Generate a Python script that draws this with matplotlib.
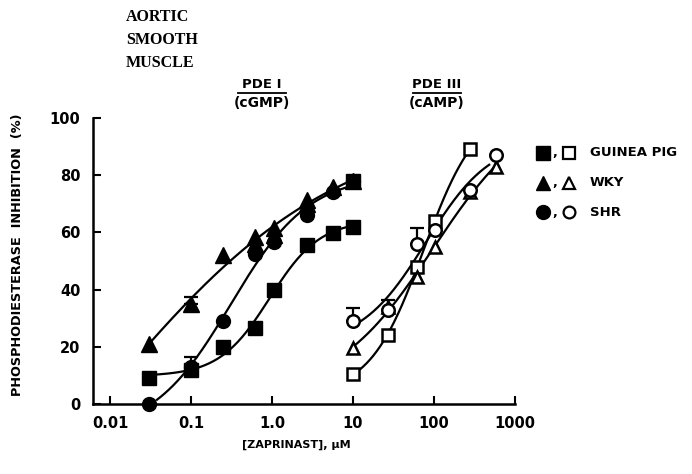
import numpy as np
import matplotlib.pyplot as plt
from matplotlib.lines import Line2D

# PDE I (cGMP) - filled symbols
x1 = [0.03, 0.1, 0.25, 0.62, 1.05, 2.7, 5.7, 10]
gp1 = [9, 12, 20, 26.5, 40, 55.5, 59.8, 62]
wky1 = [21, 35, 52, 56, 59, 70, 76, 78]
shr1 = [0, 13, 29, 52.5, 56.5, 66, 74, 78]
# repeated WKY determinations stacked at the same concentration
wky1_x_extra = [0.62, 1.05, 2.7]
wky1_extra = [58.5, 61.5, 71.5]

# PDE III (cAMP) - open symbols
x3 = [10, 27, 61, 103, 277]
gp3 = [10.5, 24, 48, 64, 89]
x3b = [10, 27, 61, 103, 277, 590]
wky3 = [19.5, 34, 44.5, 55, 74, 83]
shr3 = [29, 33, 56, 61, 75, 87]

# upper error bars
err_x = [0.1, 0.1, 10, 27, 61]
err_y = [35, 13, 29, 33, 56]
err_up = [2.5, 3.5, 4.5, 3.5, 5.5]

fig = plt.figure(figsize=(6.92, 4.74), dpi=100)
ax = fig.add_axes([93/692, 1-404/474, (515-93)/692, (404-118)/474])
ax.set_xscale('log')
ax.set_xlim(10**-2.21, 1000)
ax.set_ylim(0, 100)

# sigmoid (Hill) fit in log x: grid over midpoint/slope, least squares for bottom/top
def curve(x, y, x0=None, x1_=None):
    lx = np.log10(x)
    y = np.asarray(y, float)
    best = None
    for mid in np.linspace(lx[0] - 1, lx[-1] + 2, 300):
        for h in np.linspace(0.3, 3, 60):
            s = 1 / (1 + 10**((mid - lx) * h))
            A = np.column_stack([1 - s, s])
            coef = np.linalg.lstsq(A, y, rcond=None)[0]
            r = np.sum((A @ coef - y)**2)
            if best is None or r < best[0]:
                best = (r, mid, h, coef)
    _, mid, h, (b, t) = best
    lo = lx[0] if x0 is None else np.log10(x0)
    hi = lx[-1] if x1_ is None else np.log10(x1_)
    xs = np.linspace(lo, hi, 200)
    s = 1 / (1 + 10**((mid - xs) * h))
    ax.plot(10**xs, b + (t - b) * s, color='black', lw=1.6, zorder=2)

curve(x1, gp1)
curve(x1 + wky1_x_extra, wky1 + wky1_extra, x0=0.03, x1_=10)
curve(x1, shr1, x0=0.038)
curve(x3, gp3, x1_=250)
curve(x3b, wky3)
curve(x3b, shr3, x1_=480)

ax.errorbar(err_x, err_y, yerr=[np.zeros(5), err_up], fmt='none', ecolor='black',
            elinewidth=1.6, capsize=5, capthick=1.6, zorder=3)

ms = 10
ax.plot(x1, wky1, '^', color='black', ms=ms+1, ls='none', zorder=4, clip_on=False)
ax.plot(wky1_x_extra, wky1_extra, '^', color='black', ms=ms+1, ls='none', zorder=4)
ax.plot(x1, shr1, 'o', color='black', ms=ms, ls='none', zorder=4, clip_on=False)
ax.plot(x1, gp1, 's', color='black', ms=ms, ls='none', zorder=5)
ax.plot(x1[-1:], wky1[-1:], 's', color='black', ms=ms, ls='none', zorder=5)

ax.plot(x3, gp3, 's', mfc='white', mec='black', mew=1.8, ms=ms-1, ls='none', zorder=4)
ax.plot(x3b, wky3, '^', mfc='white', mec='black', mew=1.8, ms=ms-1, ls='none', zorder=4)
ax.plot(x3b, shr3, 'o', mfc='white', mec='black', mew=1.8, ms=ms-1, ls='none', zorder=4)

for s in ['top', 'right']:
    ax.spines[s].set_visible(False)
for s in ['left', 'bottom']:
    ax.spines[s].set_linewidth(1.8)
ax.tick_params(direction='in', length=6, width=1.5, pad=9, labelsize=10.5)
ax.minorticks_off()
ax.set_xticks([0.01, 0.1, 1, 10, 100, 1000])
ax.set_xticklabels(['0.01', '0.1', '1.0', '10', '100', '1000'], fontweight='bold')
ax.set_yticks([0, 20, 40, 60, 80, 100])
ax.set_yticklabels(['0', '20', '40', '60', '80', '100'], fontweight='bold')

fig.text(296/692, 1-445/474, '[ZAPRINAST], \u00b5M', ha='center', va='center',
         fontsize=8, fontweight='bold', family='Liberation Sans Narrow')
fig.text(18/692, 1-255/474, 'PHOSPHODIESTERASE  INHIBITION  (%)', rotation=90,
         ha='center', va='center', fontsize=9.3, fontweight='bold',
         family='Liberation Sans Narrow')

for i, t in enumerate(['AORTIC', 'SMOOTH', 'MUSCLE']):
    fig.text(126/692, 1-(17+23*i)/474, t, ha='left', va='center', fontsize=11.5,
             fontweight='bold', family='Liberation Serif')

for cx, top, bot in [(262, 'PDE I', '(cGMP)'), (437, 'PDE III', '(cAMP)')]:
    fig.text(cx/692, 1-85/474, top, ha='center', va='center', fontsize=9.5,
             fontweight='bold', family='Liberation Sans Narrow')
    fig.text(cx/692, 1-103/474, bot, ha='center', va='center', fontsize=10, fontweight='bold')
    fig.add_artist(Line2D([(cx-24)/692, (cx+24)/692], [1-93/474, 1-93/474],
                          color='black', lw=1.3, transform=fig.transFigure))

legend_rows = [('s', 'GUINEA PIG', 153), ('^', 'WKY', 183), ('o', 'SHR', 212)]
for m, name, yy in legend_rows:
    yf = 1 - yy/474
    fig.add_artist(Line2D([543/692], [yf], marker=m, color='black', ms=10,
                          transform=fig.transFigure))
    fig.text(555/692, yf, ',', ha='center', va='center', fontsize=9, fontweight='bold')
    fig.add_artist(Line2D([569/692], [yf], marker=m, mfc='white', mec='black', mew=1.6,
                          ms=8.5, transform=fig.transFigure))
    fig.text(590/692, yf, name, ha='left', va='center', fontsize=9.5, fontweight='bold')

fig.savefig('out.png', dpi=100)
